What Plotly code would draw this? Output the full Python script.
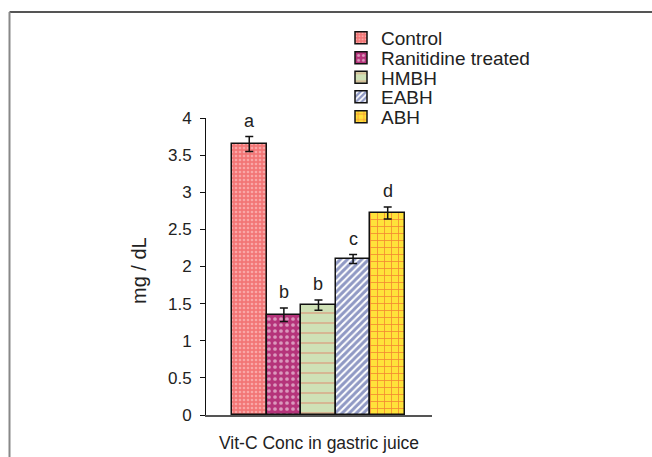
import plotly.graph_objects as go

groups = ["Control", "Ranitidine treated", "HMBH", "EABH", "ABH"]
values = [3.65, 1.35, 1.48, 2.10, 2.72]
errors = [0.10, 0.09, 0.07, 0.06, 0.08]
letters = ["a", "b", "b", "c", "d"]
y_ticks = [0, 0.5, 1, 1.5, 2, 2.5, 3, 3.5, 4]
y_tick_labels = ["0", "0.5", "1", "1.5", "2", "2.5", "3", "3.5", "4"]
x_title = "Vit-C Conc in gastric juice"
y_title = "mg / dL"

patterns = [
    dict(shape=".", bgcolor="#f27676", fgcolor="#ffd8d8", size=4, solidity=0.35),
    dict(shape=".", bgcolor="#b5337a", fgcolor="#ffffff", size=6, solidity=0.3),
    dict(shape="-", bgcolor="#cfe1b6", fgcolor="#e8503f", size=10, solidity=0.12),
    dict(shape="/", bgcolor="#ffffff", fgcolor="#22348a", size=5, solidity=0.6),
    dict(shape="+", bgcolor="#ffe23a", fgcolor="#e8302a", size=7, solidity=0.22),
]

W, H = 652, 457
L, R, T, B = 206, 432, 118, 415
FONT = "Liberation Sans, Arial, sans-serif"
TXT = "#222222"

def px_x(p):
    return (p - L) / (R - L)

def px_y(p):
    return (B - p) / (B - T)

fig = go.Figure()
legend_ids = ["legend", "legend2", "legend3", "legend4", "legend5"]
for i, g in enumerate(groups):
    fig.add_trace(go.Bar(
        x=[i], y=[values[i]], name=g, width=1,
        marker=dict(color=patterns[i]["bgcolor"], pattern=patterns[i],
                    line=dict(color="#111111", width=1.5)),
        error_y=dict(type="data", array=[errors[i]], color="#111111",
                     thickness=1.5, width=4),
        legend=legend_ids[i], showlegend=True,
    ))

annotations = []
for i, lt in enumerate(letters):
    annotations.append(dict(x=i, y=values[i] + errors[i], xref="x", yref="y",
                            text=lt, showarrow=False, yanchor="bottom", yshift=4,
                            font=dict(size=18, color=TXT, family=FONT)))
annotations.append(dict(x=px_x(319), y=px_y(443), xref="paper", yref="paper",
                        text=x_title, showarrow=False, xanchor="center", yanchor="middle",
                        font=dict(size=17.5, color=TXT, family=FONT)))
annotations.append(dict(x=px_x(139), y=px_y(271), xref="paper", yref="paper",
                        text=y_title, showarrow=False, xanchor="center", yanchor="middle",
                        textangle=-90, font=dict(size=20, color=TXT, family=FONT)))

legend_rows = [38, 58, 77.5, 97, 117]
layout_legends = {}
for i, lid in enumerate(legend_ids):
    layout_legends[lid] = dict(x=px_x(341), y=px_y(legend_rows[i]), xanchor="left",
                               yanchor="middle", bgcolor="rgba(0,0,0,0)",
                               font=dict(size=19, color=TXT, family=FONT),
                               itemwidth=30, tracegroupgap=0)

fig.update_layout(
    width=W, height=H,
    margin=dict(l=L, r=W - R, t=T, b=H - B),
    paper_bgcolor="white", plot_bgcolor="white",
    barmode="overlay", bargap=0,
    font=dict(family=FONT, size=17, color=TXT),
    xaxis=dict(range=[-1.25, 5.28], showticklabels=False, ticks="", showgrid=False,
               zeroline=False, showline=True, linecolor="#555555", linewidth=2,
               fixedrange=True),
    yaxis=dict(range=[0, 4], tickvals=y_ticks, ticktext=y_tick_labels, ticks="outside",
               ticklen=5, tickwidth=1, tickcolor="#111111", showgrid=False, zeroline=False,
               showline=True, linecolor="#111111", linewidth=1,
               ticklabelstandoff=5,
               tickfont=dict(size=17, color=TXT, family=FONT)),
    annotations=annotations,
    shapes=[
        dict(type="line", xref="paper", yref="paper", x0=px_x(9.5), x1=px_x(652),
             y0=px_y(12), y1=px_y(12), line=dict(color="#555555", width=2)),
        dict(type="line", xref="paper", yref="paper", x0=px_x(9.5), x1=px_x(9.5),
             y0=px_y(12), y1=px_y(457), line=dict(color="#888888", width=2)),
    ],
    **layout_legends,
)

fig.write_html("out.html")
